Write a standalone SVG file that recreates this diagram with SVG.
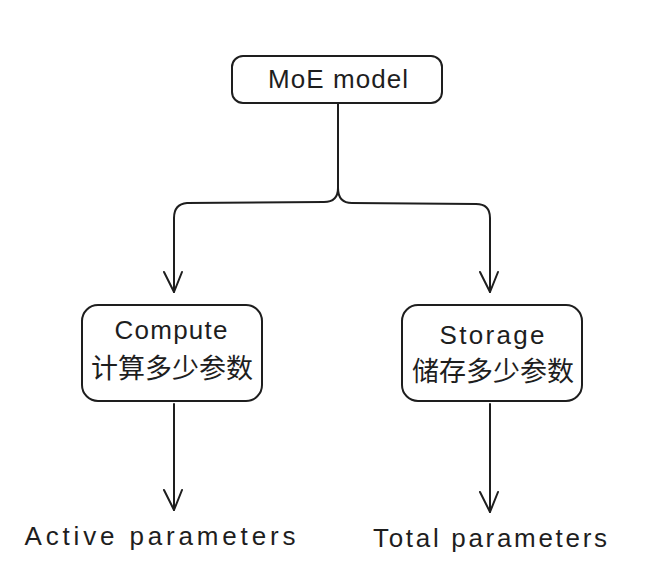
<svg xmlns="http://www.w3.org/2000/svg" width="648" height="582" viewBox="0 0 648 582">
<style>
.box{fill:#fff;stroke:#1e1e1e;stroke-width:2;}
.t{font-family:"Liberation Sans","Noto Sans CJK SC",sans-serif;font-size:26px;fill:#1e1e1e;text-anchor:middle;}
.c{font-family:"Noto Sans CJK SC",sans-serif;font-size:27px;fill:#1e1e1e;text-anchor:middle;}
.ln{fill:none;stroke:#1e1e1e;stroke-width:2;stroke-linecap:round;stroke-linejoin:round;}
</style>
<rect width="648" height="582" fill="#fff"/>
<g id="connectors">
<path class="ln" d="M338,104 L338,188 Q338,202 324,202 L187,203 Q174,204 174,218 L174,292"/>
<path class="ln" d="M338,188 Q338,203 352,203 L476,204 Q490,204 490,218 L490,292"/>
<path class="ln" d="M164,272 L174,292 L182,272"/>
<path class="ln" d="M480,272 L490,292 L498,272"/>
<path class="ln" d="M174,404 L174,510"/>
<path class="ln" d="M164,490 L174,510 L182,490"/>
<path class="ln" d="M490,404 L490,512"/>
<path class="ln" d="M480,492 L490,512 L498,492"/>
</g>
<g id="moe">
<rect class="box" x="232" y="56" width="210" height="47" rx="11"/>
<text class="t" x="338" y="88" textLength="140" lengthAdjust="spacing">MoE model</text>
</g>
<g id="compute">
<rect class="box" x="82" y="305" width="180" height="96" rx="16"/>
<text class="t" x="171" y="339" textLength="113" lengthAdjust="spacing">Compute</text>
<text class="c" x="172" y="378">计算多少参数</text>
</g>
<g id="storage">
<rect class="box" x="402" y="305" width="180" height="96" rx="16"/>
<text class="t" x="492" y="344" textLength="105" lengthAdjust="spacing">Storage</text>
<text class="c" x="493" y="381">储存多少参数</text>
</g>
<g id="active">
<text class="t" x="160" y="545" textLength="271" lengthAdjust="spacing">Active parameters</text>
</g>
<g id="total">
<text class="t" x="490" y="547" textLength="234" lengthAdjust="spacing">Total parameters</text>
</g>
</svg>
